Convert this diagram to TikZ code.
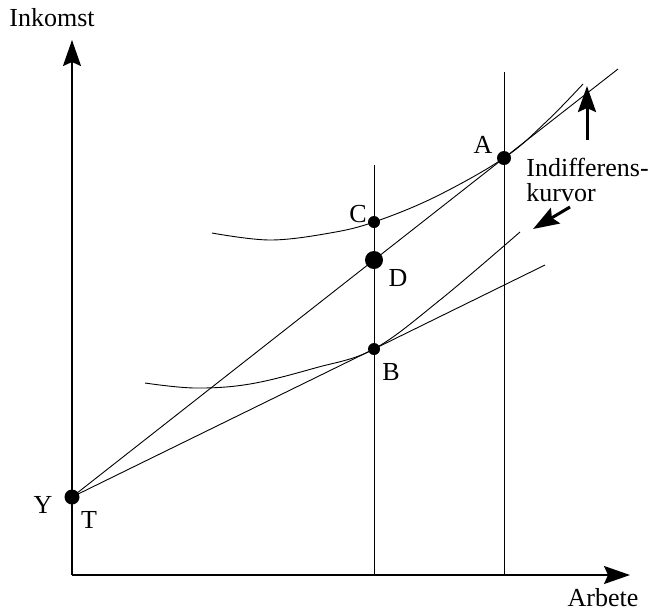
\documentclass[tikz,border=0pt]{standalone}
\usepackage{fontspec}
\setmainfont{Liberation Serif}
\usetikzlibrary{arrows.meta}

\tikzset{
  axis/.style={line width=0.9pt, -{Stealth[length=13pt, width=9pt, inset=2pt]}},
  thin/.style={line width=0.45pt},
  pil/.style={line width=1.5pt, -{Stealth[length=13pt, width=9pt, inset=2pt]}},
  pt/.style={circle, fill, inner sep=0pt, minimum size=#1},
  pt/.default=6pt,
  lbl/.style={inner sep=0pt}
}

\begin{document}
\begin{tikzpicture}[x=0.5pt, y=-0.5pt, font=\fontsize{13}{12.5}\selectfont]
\useasboundingbox (0,0) rectangle (653,612);

% ===== axes =====
\coordinate (O) at (72,575);
\coordinate (ytop) at (72,40);
\coordinate (xend) at (630,575);
\draw[axis] (O) -- (ytop);
\draw[axis] (O) -- (xend);
\node[lbl] (inkomst) at (52,18) {Inkomst};
\node[lbl] (arbete) at (603,598) {Arbete};

% ===== points =====
\node[pt=7.5pt] (Y) at (72,497) {};
\node[pt] (B) at (374,349) {};
\node[pt=9pt] (D) at (374,260) {};
\node[pt] (C) at (374,222) {};
\node[pt=7pt] (A) at (504,158) {};

\node[lbl] (lY) at (43,505) {Y};
\node[lbl] (lT) at (89,520) {T};
\node[lbl] (lB) at (391,372) {B};
\node[lbl] (lD) at (398,278) {D};
\node[lbl] (lC) at (358,214) {C};
\node[lbl] (lA) at (483,145) {A};

% ===== vertical lines =====
\coordinate (v1top) at (374,165);
\coordinate (v1bot) at (374,575);
\coordinate (v2top) at (504,72);
\coordinate (v2bot) at (504,575);
\draw[thin] (v1top) -- (v1bot);
\draw[thin] (v2top) -- (v2bot);

% ===== straight lines from Y =====
\coordinate (steepend) at (618,69);
\coordinate (flatend) at (545,265);
\draw[thin] (Y.center) -- (D.center) -- (A.center) -- (steepend);
\draw[thin] (Y.center) -- (B.center) -- (flatend);

% ===== indifference curves =====
\draw[thin] plot[smooth, tension=0.6] coordinates
  {(145,383) (195,388) (250,384) (315,368) (B) (440,300) (520,232)};
\draw[thin] plot[smooth, tension=0.6] coordinates
  {(212,233) (270,240) (330,233) (C) (435,197) (A) (547,121) (583,84)};

% ===== label with arrows =====
\node[lbl, align=left, anchor=west] (indiff) at (526,180) {Indifferens-\\kurvor};
\coordinate (upfrom) at (587,140);
\coordinate (upto) at (587,86);
\coordinate (dnfrom) at (570,207);
\coordinate (dnto) at (533,229);
\draw[pil] (upfrom) -- (upto);
\draw[pil] (dnfrom) -- (dnto);

\end{tikzpicture}
\end{document}
